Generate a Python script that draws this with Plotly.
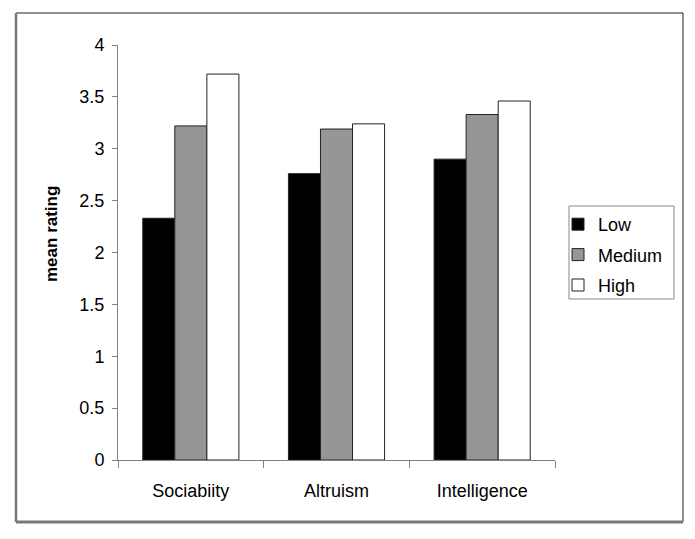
import plotly.graph_objects as go

categories = ["Sociabiity", "Altruism", "Intelligence"]
low = [2.33, 2.76, 2.90]
medium = [3.22, 3.19, 3.33]
high = [3.72, 3.24, 3.46]
series_names = ["Low", "Medium", "High"]
series_colors = ["#000000", "#969696", "#ffffff"]
y_ticks = [0, 0.5, 1, 1.5, 2, 2.5, 3, 3.5, 4]
y_tick_text = ["0", "0.5", "1", "1.5", "2", "2.5", "3", "3.5", "4"]
y_title = "mean rating"

FONT = "Liberation Sans, Arial, sans-serif"

fig = go.Figure()
for name, vals, col in zip(series_names, [low, medium, high], series_colors):
    fig.add_trace(go.Bar(
        x=categories, y=vals, name=name, legendgroup=name,
        marker=dict(color=col, line=dict(color="#222222", width=1)),
    ))

L, R, T, B = 118, 555, 45, 460
W, H = 695, 539
pw, ph = R - L, B - T

def px_x(x):
    return (x - L) / pw

def px_y(y):
    return (B - y) / ph

fig.update_layout(
    width=W, height=H,
    margin=dict(l=L, r=W - R, t=T, b=H - B, pad=0),
    paper_bgcolor="white", plot_bgcolor="white",
    barmode="group", bargap=0.34, bargroupgap=0,
    font=dict(family=FONT, size=18, color="black"),
    legend=dict(
        x=px_x(558), y=px_y(206), xanchor="left", yanchor="top",
        bgcolor="rgba(0,0,0,0)", borderwidth=0,
        font=dict(size=18), tracegroupgap=4, itemwidth=30,
    ),
    xaxis=dict(
        showline=True, linecolor="#808080", linewidth=1,
        ticks="outside", tickson="boundaries", ticklen=7, tickcolor="#808080",
        showgrid=False, ticklabelstandoff=14,
    ),
    yaxis=dict(
        range=[0, 4], tickvals=y_ticks, ticktext=y_tick_text,
        showline=True, linecolor="#808080", linewidth=1,
        ticks="outside", ticklen=5, tickcolor="#808080",
        showgrid=False, zeroline=False, ticklabelstandoff=4,
    ),
    annotations=[dict(
        text="<b>" + y_title + "</b>", textangle=-90, showarrow=False,
        xref="paper", yref="paper", x=px_x(52), y=px_y(234),
        xanchor="center", yanchor="middle", font=dict(size=17),
    )],
    shapes=[
        dict(type="rect", xref="paper", yref="paper",
             x0=px_x(16), x1=px_x(683), y0=px_y(522), y1=px_y(13),
             line=dict(color="#222222", width=1), fillcolor="rgba(0,0,0,0)"),
        dict(type="line", xref="paper", yref="paper",
             x0=px_x(16), x1=px_x(16), y0=px_y(522), y1=px_y(13),
             line=dict(color="#777777", width=2.5)),
        dict(type="line", xref="paper", yref="paper",
             x0=px_x(16), x1=px_x(683), y0=px_y(522), y1=px_y(522),
             line=dict(color="#777777", width=3)),
        dict(type="rect", xref="paper", yref="paper",
             x0=px_x(569), x1=px_x(674), y0=px_y(299), y1=px_y(206),
             line=dict(color="#888888", width=1), fillcolor="rgba(0,0,0,0)"),
    ],
)

fig.write_html("out.html", config={"displayModeBar": False},
               post_script="document.body.style.margin='0';")
